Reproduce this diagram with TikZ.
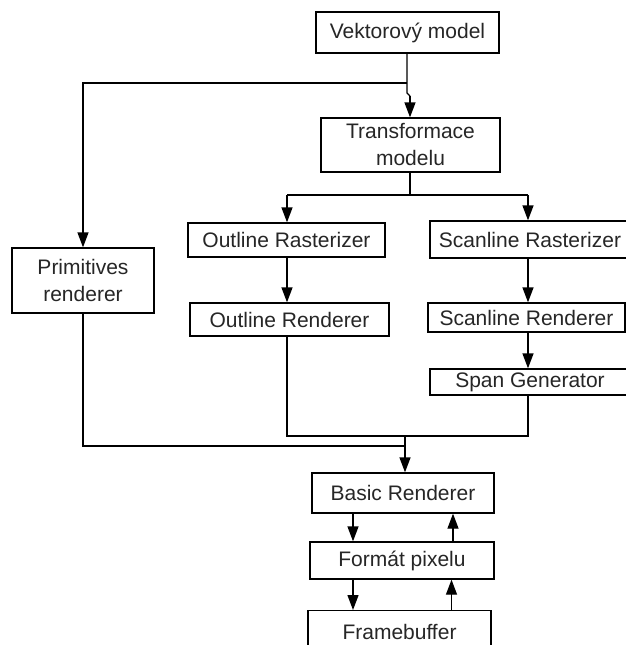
\documentclass[tikz,border=0pt]{standalone}
\usepackage{fontspec}
\setmainfont{Liberation Sans}
\usetikzlibrary{arrows.meta}
\begin{document}
\begin{tikzpicture}[x=1pt,y=-1pt,
  box/.style={draw=black,line width=1.3pt,inner sep=0pt,align=center,
    font=\fontsize{21}{27}\selectfont,text=black!85},
  conn/.style={draw=black,line width=1.3pt},
  arr/.style={conn,-{Triangle[length=15pt,width=11pt]}}]
\useasboundingbox (0,0) rectangle (626,645);
\clip (0,0) rectangle (626,645);
\fill[white] (0,0) rectangle (626,645);
% nodes
\node[box,minimum width=183pt,minimum height=41pt] (vm) at (407.5,32.5) {Vektorový model};
\node[box,minimum width=179pt,minimum height=54pt] (tm) at (410.5,145) {Transformace\\modelu};
\node[box,minimum width=142pt,minimum height=65pt] (pr) at (83,280.5) {Primitives\\renderer};
\node[box,minimum width=197pt,minimum height=34pt] (orz) at (286.5,240) {Outline Rasterizer};
\node[box,minimum width=199pt,minimum height=33pt] (ore) at (289.5,319.5) {Outline Renderer};
\node[box,minimum width=200pt,minimum height=37pt] (srz) at (530,239.5) {Scanline Rasterizer};
\node[box,minimum width=197pt,minimum height=29pt] (sre) at (526.5,317.5) {Scanline Renderer};
\node[box,minimum width=200pt,minimum height=26pt] (sg) at (530,382) {Span Generator};
\node[box,minimum width=182pt,minimum height=40pt] (br) at (403,493) {Basic Renderer};
\node[box,minimum width=184pt,minimum height=37pt] (fp) at (402,560.5) {Formát pixelu};
\node[box,minimum width=183pt,minimum height=64pt,anchor=north] (fb) at (399.5,610) {\raisebox{22pt}{Framebuffer}};
% junctions
\coordinate (j1) at (407,83);
\coordinate (j1b) at (407,93);
\coordinate (j1c) at (410,96);
\coordinate (j2) at (410,195);
\coordinate (j2l) at (287,195);
\coordinate (j2r) at (528,195);
\coordinate (jm) at (405,436);
\coordinate (jl) at (405,446);
% top
\draw[conn] (vm.south -| j1) -- (j1) -- (j1b) -- (j1c);
\draw[arr] (j1c) -- (tm.north -| j1c);
\draw[arr] (j1) -| (pr.north);
% split
\draw[conn] (tm.south -| j2) -- (j2);
\draw[conn] (j2l) -- (j2r);
\draw[arr] (j2l) -- (orz.north -| j2l);
\draw[arr] (j2r) -- (srz.north -| j2r);
\draw[arr] (orz.south -| j2l) -- (ore.north -| j2l);
\draw[arr] (srz.south -| j2r) -- (sre.north -| j2r);
\draw[arr] (sre.south -| j2r) -- (sg.north -| j2r);
% merge
\draw[conn] (ore.south -| j2l) |- (jm);
\draw[conn] (sg.south -| j2r) |- (jm);
\draw[conn] (pr.south) |- (jl);
\draw[arr] (jm) -- (br.north -| jm);
% bottom
\draw[arr] ([xshift=-50pt]br.south) -- ([xshift=-50pt]br.south |- fp.north);
\draw[arr] ([xshift=51pt]fp.north) -- ([xshift=51pt]fp.north |- br.south);
\draw[arr] ([xshift=-49pt]fp.south) -- ([xshift=-49pt]fp.south |- fb.north);
\draw[arr] ([xshift=52pt]fb.north) -- ([xshift=52pt]fb.north |- fp.south);
\end{tikzpicture}
\end{document}
